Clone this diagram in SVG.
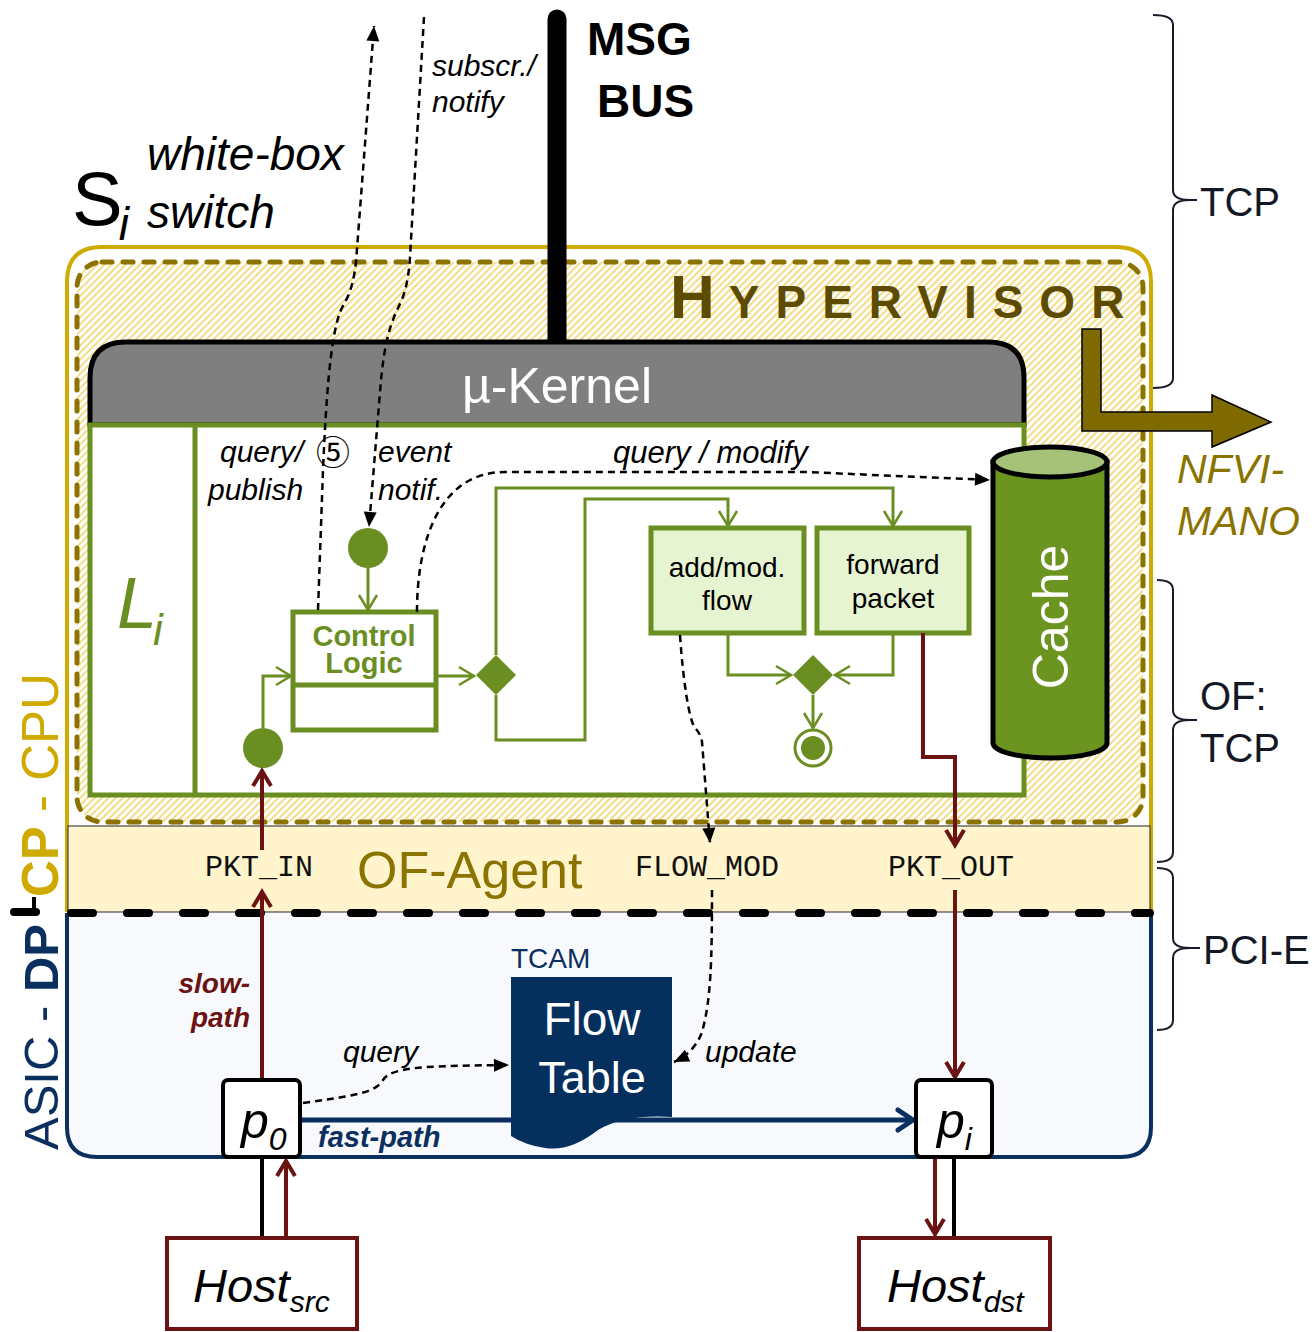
<svg xmlns="http://www.w3.org/2000/svg" width="1316" height="1332" viewBox="0 0 1316 1332">
<defs>
<style>
.sans{font-family:"Liberation Sans",Arial,sans-serif}
.it{font-style:italic}
.b{font-weight:bold}
.mono{font-family:"Liberation Mono","Courier New",monospace;font-size:30px;fill:#111}
.dash{fill:none;stroke:#000;stroke-width:2.5;stroke-dasharray:7 5}
.gline{fill:none;stroke:#6B8E23;stroke-width:3}
.gbox{stroke:#6B8E23;stroke-width:5}
.red{fill:none;stroke:#6B1212;stroke-width:4}
.brace{fill:none;stroke:#1a1a2a;stroke-width:2}
.lbl{font-family:"Liberation Sans",Arial,sans-serif;font-size:40px;fill:#141824}
</style>
<pattern id="hatch" width="5" height="5" patternUnits="userSpaceOnUse" patternTransform="rotate(45)">
<rect width="5" height="5" fill="#fff"/>
<line x1="1" y1="0" x2="1" y2="5" stroke="#F4D878" stroke-width="1.8"/>
</pattern>
<marker id="ab" markerUnits="userSpaceOnUse" markerWidth="20" markerHeight="20" viewBox="-18 -10 20 20" refX="0" refY="0" orient="auto">
<path d="M-15,-6.5 L0,0 L-15,6.5 Z" fill="#000"/>
</marker>
<marker id="ag" markerUnits="userSpaceOnUse" markerWidth="24" markerHeight="24" viewBox="-20 -12 24 24" refX="0" refY="0" orient="auto">
<path d="M-15,-9 L0,0 L-15,9" fill="none" stroke="#6B8E23" stroke-width="2.5"/>
</marker>
<marker id="ar" markerUnits="userSpaceOnUse" markerWidth="26" markerHeight="26" viewBox="-22 -13 26 26" refX="0" refY="0" orient="auto">
<path d="M-15,-9 L0,0 L-15,9" fill="none" stroke="#6B1212" stroke-width="4"/>
</marker>
<marker id="an" markerUnits="userSpaceOnUse" markerWidth="26" markerHeight="26" viewBox="-22 -13 26 26" refX="0" refY="0" orient="auto">
<path d="M-15,-10 L0,0 L-15,10" fill="none" stroke="#0B2F5E" stroke-width="5" stroke-linecap="round" stroke-linejoin="round"/>
</marker>
</defs>

<rect width="1316" height="1332" fill="#fff"/>

<!-- CPU outer box -->
<g id="cpu">
<path d="M67,912 V282 Q67,247 102,247 H1116 Q1151,247 1151,282 V912" fill="#fff" stroke="#CFAA00" stroke-width="4"/>
</g>

<!-- Hypervisor -->
<g id="hypervisor">
<rect x="77" y="262" width="1066" height="560" rx="25" fill="url(#hatch)" stroke="#8C7300" stroke-width="5" stroke-dasharray="10 11" stroke-linecap="round"/>
<text x="670" y="318" class="sans b" font-size="62" fill="#5C4B00">H<tspan dx="14" font-size="46" letter-spacing="16">YPERVISOR</tspan></text>
</g>

<!-- OF-Agent -->
<g id="of-agent">
<rect x="68" y="826" width="1082" height="86" fill="#FFF4CC" stroke="#222" stroke-width="1"/>
<text x="357" y="888" class="sans" font-size="52" fill="#8B7300">OF-Agent</text>
<text x="205" y="876" class="mono">PKT_IN</text>
<text x="635" y="876" class="mono">FLOW_MOD</text>
<text x="888" y="876" class="mono">PKT_OUT</text>
</g>

<!-- ASIC box -->
<g id="asic">
<path d="M67,913 V1127 Q67,1157 97,1157 H1121 Q1151,1157 1151,1127 V913 Z" fill="#F7F9FC" stroke="none"/>
<path d="M67,913 V1127 Q67,1157 97,1157 H1121 Q1151,1157 1151,1127 V913" fill="none" stroke="#0B2F5E" stroke-width="4"/>
</g>

<!-- Divider -->
<g id="divider">
<line x1="71" y1="913" x2="1150" y2="913" stroke="#000" stroke-width="8" stroke-dasharray="22 34" stroke-linecap="round"/>
<line x1="14" y1="912" x2="36" y2="912" stroke="#000" stroke-width="8" stroke-linecap="round"/>
<line x1="34" y1="897" x2="34" y2="910" stroke="#000" stroke-width="4"/>
</g>

<!-- side labels -->
<g id="side-labels">
<text transform="translate(58,1150) rotate(-90)" class="sans" font-size="49" fill="#0B2F5E">ASIC - <tspan class="b">DP</tspan></text>
<text transform="translate(58,897) rotate(-90)" class="sans" font-size="51" fill="#CFAA00"><tspan class="b">CP</tspan> - CPU</text>
</g>

<!-- MSG BUS -->
<g id="msg-bus">
<line x1="557" y1="19" x2="557" y2="345" stroke="#000" stroke-width="19" stroke-linecap="round"/>
<text x="587" y="55" class="sans b" font-size="46" fill="#000">MSG</text>
<text x="597" y="117" class="sans b" font-size="46" fill="#000">BUS</text>
</g>

<!-- micro kernel -->
<g id="kernel">
<path d="M90,425 V378 Q90,342 126,342 H988 Q1024,342 1024,378 V425 Z" fill="#7F7F7F" stroke="#000" stroke-width="5"/>
<text x="557" y="403" class="sans" font-size="50" fill="#fff" text-anchor="middle">µ-Kernel</text>
</g>

<!-- Li -->
<g id="li">
<rect x="90" y="425" width="934" height="370" fill="#fff" class="gbox"/>
<line x1="195" y1="425" x2="195" y2="795" class="gbox"/>
<text x="117" y="628" class="sans it" font-size="72" fill="#6B8E23">L<tspan dx="-4" dy="17" font-size="44">i</tspan></text>
</g>

<!-- NFVI-MANO arrow -->
<g id="nfvi-mano">
<path d="M1082,329 H1101 V412 H1212 V395 L1271,422 L1212,447 V431 H1082 Z" fill="#7F6A00" stroke="#000" stroke-width="1.5"/>
<text x="1177" y="483" class="sans it" font-size="41" fill="#8B7300">NFVI-</text>
<text x="1177" y="535" class="sans it" font-size="41" fill="#8B7300">MANO</text>
</g>

<!-- Cache -->
<g id="cache">
<path d="M993,462 V743 A57,15 0 0 0 1107,743 V462 Z" fill="#6B9420" stroke="#000" stroke-width="5"/>
<ellipse cx="1050" cy="462" rx="57" ry="15" fill="#A6C178" stroke="#000" stroke-width="5"/>
<text transform="translate(1068,617) rotate(-90)" class="sans" font-size="50" fill="#fff" text-anchor="middle">Cache</text>
</g>

<!-- activity nodes -->
<g id="init-event"><circle cx="368" cy="548" r="20" fill="#6B8E23"/></g>
<g id="init-pktin"><circle cx="263" cy="748" r="20" fill="#6B8E23"/></g>
<g id="control-logic">
<rect x="293" y="612" width="143" height="118" fill="#fff" class="gbox"/>
<line x1="293" y1="685" x2="436" y2="685" class="gbox"/>
<text x="364" y="646" class="sans b" font-size="29" fill="#6B8E23" text-anchor="middle">Control<tspan x="364" dy="27">Logic</tspan></text>
</g>
<g id="decision"><polygon points="496,655 516,675 496,695 476,675" fill="#6B8E23"/></g>
<g id="add-mod-flow">
<rect x="651" y="528" width="153" height="105" fill="#E6F4D1" class="gbox"/>
<text x="727" y="577" class="sans" font-size="28" fill="#000" text-anchor="middle">add/mod.</text>
<text x="727" y="610" class="sans" font-size="28" fill="#000" text-anchor="middle">flow</text>
</g>
<g id="forward-packet">
<rect x="817" y="528" width="152" height="105" fill="#E6F4D1" class="gbox"/>
<text x="893" y="574" class="sans" font-size="28" fill="#000" text-anchor="middle">forward</text>
<text x="893" y="608" class="sans" font-size="28" fill="#000" text-anchor="middle">packet</text>
</g>
<g id="merge"><polygon points="813,655 833,675 813,695 793,675" fill="#6B8E23"/></g>
<g id="final">
<circle cx="813" cy="748" r="18" fill="#fff" stroke="#6B8E23" stroke-width="3"/>
<circle cx="813" cy="748" r="12" fill="#6B8E23"/>
</g>

<!-- bottom nodes -->
<g id="tcam-label">
<text x="511" y="968" class="sans" font-size="28" fill="#0B2F5E">TCAM</text>
</g>

<g id="connectors">
<!-- green flow -->
<path class="gline" d="M368,568 V610" marker-end="url(#ag)"/>
<path class="gline" d="M263,728 V676 H291" marker-end="url(#ag)"/>
<path class="gline" d="M436,676 H474" marker-end="url(#ag)"/>
<path class="gline" d="M496,655 V488 H893 V526" marker-end="url(#ag)"/>
<path class="gline" d="M496,695 V740 H585 V499 H728 V526" marker-end="url(#ag)"/>
<path class="gline" d="M728,633 V675 H791" marker-end="url(#ag)"/>
<path class="gline" d="M893,633 V675 H835" marker-end="url(#ag)"/>
<path class="gline" d="M813,695 V728" marker-end="url(#ag)"/>
<!-- dashed -->
<path class="dash" d="M318,610 L323,470 C326,400 330,340 340,312 C345,300 352,296 356,262 L374,26" marker-end="url(#ab)"/>
<path class="dash" d="M424,17 L410,257 C408,290 401,302 397,310 C388,330 384,350 381,380 L369,527" marker-end="url(#ab)"/>
<path class="dash" d="M417,612 C417,540 440,472 505,472 L805,472 L990,480" marker-end="url(#ab)"/>
<path class="dash" d="M680,635 C683,680 689,720 695,728 Q701,734 702,742 L710,843" marker-end="url(#ab)"/>
<path class="dash" d="M712,890 C712,960 711,1000 702,1032 C697,1046 687,1056 674,1062" marker-end="url(#ab)"/>
<path class="dash" d="M303,1103 C340,1097 375,1095 383,1080 C392,1066 430,1066 509,1065" marker-end="url(#ab)"/>
<!-- red slow path -->
<path class="red" d="M262,1080 V892" marker-end="url(#ar)"/>
<path class="red" d="M262,850 V771" marker-end="url(#ar)"/>
<path class="red" d="M923,633 V757 H955 V845" marker-end="url(#ar)"/>
<path class="red" d="M955,890 V1077" marker-end="url(#ar)"/>
<path class="red" d="M286,1238 V1161" marker-end="url(#ar)"/>
<path class="red" d="M935,1157 V1234" marker-end="url(#ar)"/>
<path d="M262,1157 V1238 M954,1157 V1238" stroke="#000" stroke-width="4" fill="none"/>
<!-- fast path -->
<path d="M300,1120 H913" fill="none" stroke="#0B2F5E" stroke-width="5" marker-end="url(#an)"/>
</g>

<g id="flow-table">
<path d="M511,977 H672 V1117 Q625,1114 598,1130 Q570,1152 545,1148 Q525,1145 511,1136 Z" fill="#05305E"/>
<text x="592" y="1035" class="sans" font-size="46" fill="#fff" text-anchor="middle">Flow</text>
<text x="592" y="1093" class="sans" font-size="45" fill="#fff" text-anchor="middle">Table</text>
</g>

<g id="p0">
<rect x="223" y="1080" width="77" height="77" rx="5" fill="#fff" stroke="#000" stroke-width="4"/>
<text x="241" y="1138" class="sans it" font-size="50" fill="#000">p<tspan dy="12" font-size="32">0</tspan></text>
</g>
<g id="pi">
<rect x="916" y="1080" width="76" height="77" rx="5" fill="#fff" stroke="#000" stroke-width="4"/>
<text x="937" y="1138" class="sans it" font-size="50" fill="#000">p<tspan dy="12" font-size="32">i</tspan></text>
</g>
<g id="host-src">
<rect x="167" y="1238" width="190" height="91" fill="#fff" stroke="#6B1212" stroke-width="4"/>
<text x="193" y="1302" class="sans it" font-size="47" fill="#000">Host<tspan font-size="30" dy="10">src</tspan></text>
</g>
<g id="host-dst">
<rect x="859" y="1238" width="191" height="91" fill="#fff" stroke="#6B1212" stroke-width="4"/>
<text x="887" y="1302" class="sans it" font-size="47" fill="#000">Host<tspan font-size="30" dy="10">dst</tspan></text>
</g>

<!-- labels -->
<g id="labels">
<text x="72" y="225" class="sans" font-size="76" fill="#000">S<tspan class="it" dx="-4" dy="15" font-size="46">i</tspan></text>
<text x="147" y="170" class="sans it" font-size="46" fill="#000">white-box</text>
<text x="147" y="228" class="sans it" font-size="46" fill="#000">switch</text>
<text x="432" y="76" class="sans it" font-size="30" fill="#000">subscr./</text>
<text x="432" y="112" class="sans it" font-size="30" fill="#000">notify</text>
<text x="220" y="462" class="sans it" font-size="30" fill="#000">query/</text>
<text x="333" y="465" font-family="'Noto Sans CJK JP','DejaVu Sans',sans-serif" font-size="34" fill="#000" text-anchor="middle">⑤</text>
<text x="208" y="500" class="sans it" font-size="30" fill="#000">publish</text>
<text x="378" y="462" class="sans it" font-size="30" fill="#000">event</text>
<text x="378" y="500" class="sans it" font-size="30" fill="#000">notif.</text>
<text x="613" y="463" class="sans it" font-size="31" fill="#000">query / modify</text>
<text x="343" y="1062" class="sans it" font-size="30" fill="#000">query</text>
<text x="705" y="1062" class="sans it" font-size="30" fill="#000">update</text>
<text x="250" y="993" class="sans it b" font-size="28" fill="#6B1212" text-anchor="end">slow-</text>
<text x="250" y="1027" class="sans it b" font-size="28" fill="#6B1212" text-anchor="end">path</text>
<text x="318" y="1147" class="sans it b" font-size="29" fill="#0B2F5E">fast-path</text>
</g>

<!-- braces -->
<g id="braces">
<path class="brace" d="M1153,15 Q1173,15 1173,25 V190 Q1173,200 1190,200 Q1173,200 1173,210 V378 Q1173,388 1153,388"/>
<line x1="1185" y1="200" x2="1197" y2="200" class="brace"/>
<text x="1200" y="216" class="lbl">TCP</text>
<path class="brace" d="M1157,580 Q1173,580 1173,590 V710 Q1173,720 1190,720 Q1173,720 1173,730 V852 Q1173,862 1157,862"/>
<line x1="1185" y1="720" x2="1197" y2="720" class="brace"/>
<text x="1200" y="710" class="lbl">OF:</text>
<text x="1200" y="762" class="lbl">TCP</text>
<path class="brace" d="M1157,868 Q1173,868 1173,878 V938 Q1173,948 1190,948 Q1173,948 1173,958 V1020 Q1173,1030 1157,1030"/>
<line x1="1185" y1="948" x2="1200" y2="948" class="brace"/>
<text x="1203" y="964" class="lbl">PCI-E</text>
</g>
</svg>
